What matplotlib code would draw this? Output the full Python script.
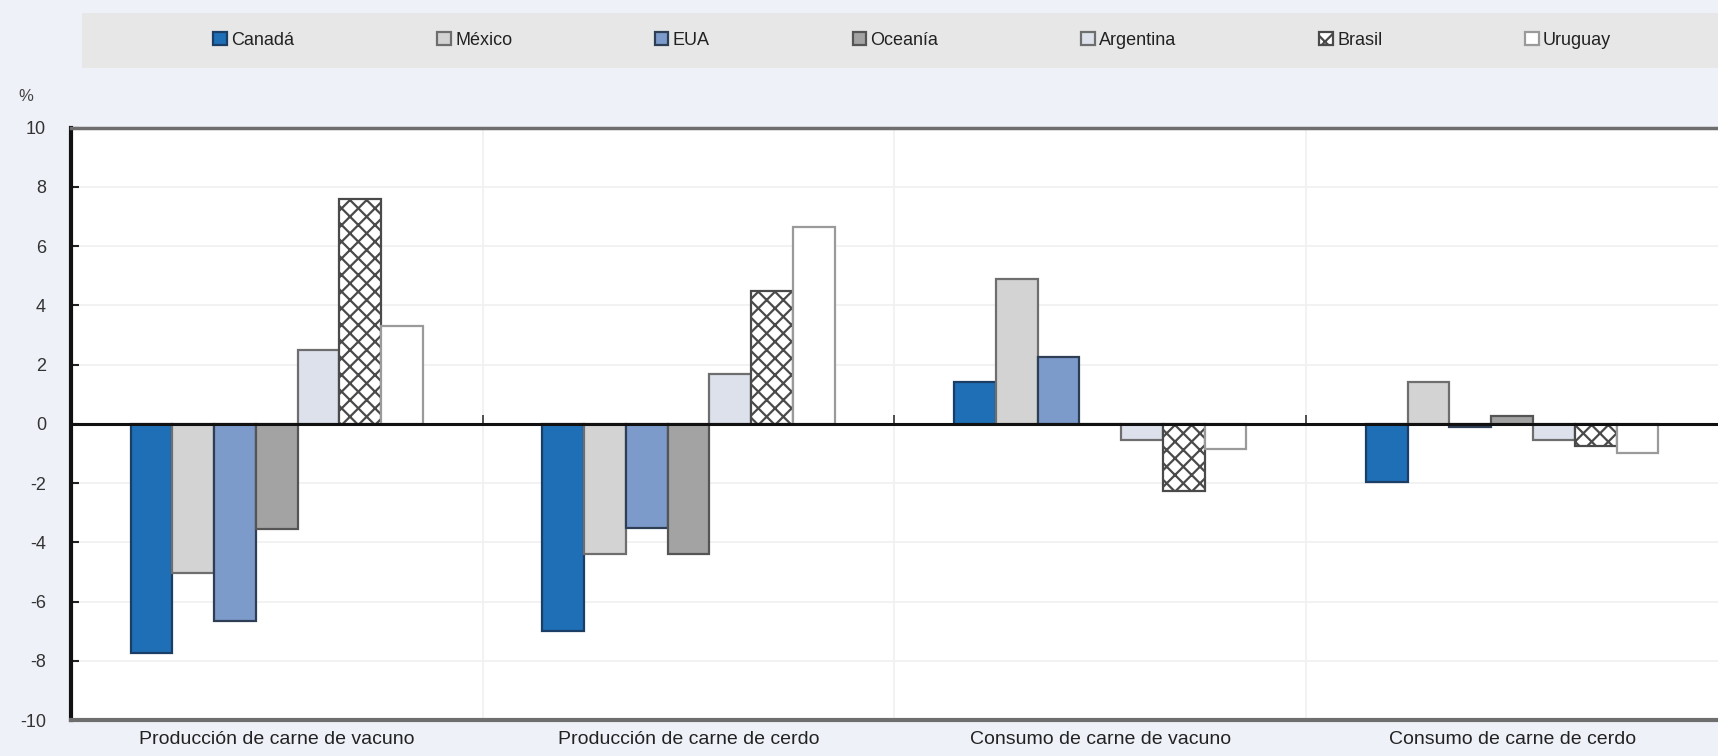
import numpy as np
import matplotlib
matplotlib.use("Agg")
import matplotlib.pyplot as plt
from matplotlib.patches import Rectangle

plt.rcParams['font.family'] = ['Liberation Sans Narrow', 'Liberation Sans', 'DejaVu Sans']
plt.rcParams['hatch.linewidth'] = 1.6
plt.rcParams['axes.unicode_minus'] = False

categories = ["Producción de carne de vacuno", "Producción de carne de cerdo",
              "Consumo de carne de vacuno", "Consumo de carne de cerdo"]
countries = ["Canadá", "México", "EUA", "Oceanía", "Argentina", "Brasil", "Uruguay"]

canada    = [-7.75, -7.0, 1.4, -1.95]
mexico    = [-5.05, -4.4, 4.9, 1.4]
eua       = [-6.65, -3.5, 2.25, -0.12]
oceania   = [-3.55, -4.4, 0.0, 0.25]
argentina = [2.5, 1.7, -0.53, -0.55]
brasil    = [7.6, 4.5, -2.25, -0.75]
uruguay   = [3.3, 6.65, -0.85, -0.98]
series = [canada, mexico, eua, oceania, argentina, brasil, uruguay]

styles = [
    dict(facecolor="#1F6FB6", edgecolor="#1B3E66"),
    dict(facecolor="#D3D3D3", edgecolor="#6E6E6E"),
    dict(facecolor="#7C9BCB", edgecolor="#2E3E55"),
    dict(facecolor="#A3A3A3", edgecolor="#555555"),
    dict(facecolor="#DCE1EC", edgecolor="#6E6E6E"),
    dict(facecolor="white", edgecolor="#4A4A4A", hatch="xx"),
    dict(facecolor="white", edgecolor="#9A9A9A"),
]

BG = "#EEF1F8"
fig = plt.figure(figsize=(17.18, 7.56), dpi=100, facecolor=BG)
ax = fig.add_axes([0.0413, 0.0476, 0.9587, 0.7834])
ax.set_facecolor("white")

x = np.arange(len(categories))
w = 0.1014
handles = []
for i, (vals, st) in enumerate(zip(series, styles)):
    b = ax.bar(x + (i - 3) * w, vals, width=w, linewidth=1.6, label=countries[i],
               zorder=3, **st)
    handles.append(b)

ax.set_xlim(-0.5, 3.5)
ax.set_ylim(-10, 10)
ax.set_yticks(np.arange(-10, 11, 2))
ax.yaxis.grid(True, color="#F0F0F0", linewidth=1.2, zorder=0)
ax.set_axisbelow(True)
for b in (0.5, 1.5, 2.5):
    ax.axvline(b, color="#F0F0F0", linewidth=1.2, zorder=0)
    ax.vlines(b, 0, 0.3, color="#333333", linewidth=1.2, zorder=4)
ax.axhline(0, color="#111111", linewidth=2.2, zorder=4)

ax.set_xticks(x)
ax.set_xticklabels(categories, fontsize=14, color="#222222")
ax.tick_params(axis="x", length=0, pad=8)
ax.tick_params(axis="y", direction="in", length=6, width=1.5, pad=18,
               labelsize=13, colors="#222222")
for lab in ax.get_yticklabels():
    lab.set_color("#333333")

ax.spines["left"].set_color("#111111")
ax.spines["left"].set_linewidth(3)
ax.spines["top"].set_color("#6E6E6E")
ax.spines["top"].set_linewidth(2.5)
ax.spines["bottom"].set_color("#6E6E6E")
ax.spines["bottom"].set_linewidth(3)
ax.spines["right"].set_visible(False)

fig.text(0.0105, 0.873, "%", fontsize=12, color="#444444", ha="left", va="center")

# legend band
fig.patches.append(Rectangle((0.0477, 0.910), 0.9523, 0.073, transform=fig.transFigure,
                             facecolor="#E7E7E7", edgecolor="none", zorder=0))
fig.legend(handles=handles, labels=countries, loc="center", ncol=7,
           bbox_to_anchor=(0.531, 0.947), frameon=False, fontsize=13,
           handlelength=0.75, handleheight=0.75, handletextpad=0.25,
           columnspacing=7.9, labelcolor="#222222")

fig.savefig("out.png", dpi=100, facecolor=BG)
